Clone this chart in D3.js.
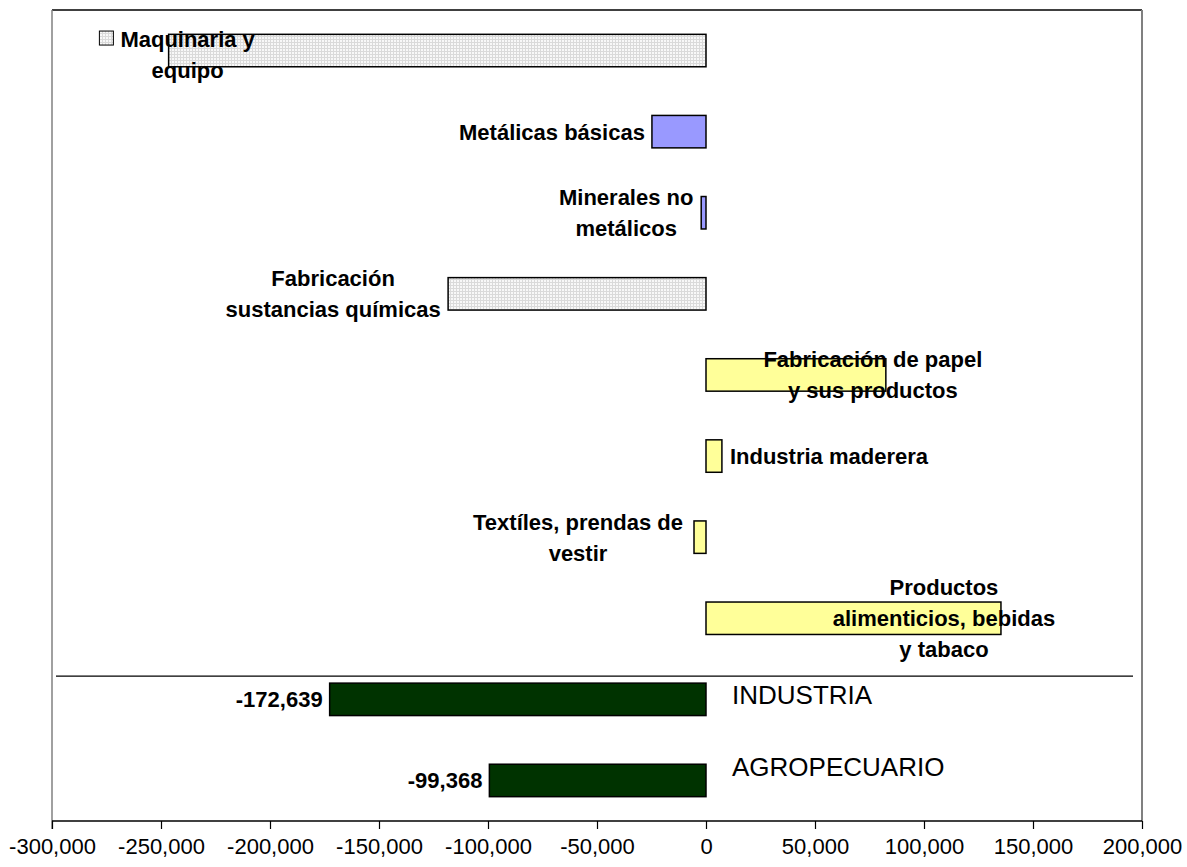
<!DOCTYPE html>
<html><head><meta charset="utf-8">
<script src="https://cdn.jsdelivr.net/npm/d3@7"></script>
<style>
html,body{margin:0;padding:0;background:#fff;}
svg{display:block;font-family:"Liberation Sans",Arial,sans-serif;}
</style></head>
<body>
<svg id="chart" width="1187" height="867"></svg>
<script>
// ---- data ----
const categories = ["Maquinaria y equipo","Metálicas básicas","Minerales no metálicos","Fabricación sustancias químicas","Fabricación de papel y sus productos","Industria maderera","Textíles, prendas de vestir","Productos alimenticios, bebidas y tabaco","INDUSTRIA","AGROPECUARIO"];
const values = [-246500, -24800, -2200, -118300, 82500, 7300, -5500, 135300, -172639, -99368];
const labelLines = [["Maquinaria y","equipo"],["Metálicas básicas"],["Minerales no","metálicos"],["Fabricación","sustancias químicas"],["Fabricación de papel","y sus productos"],["Industria maderera"],["Textíles, prendas de","vestir"],["Productos","alimenticios, bebidas","y tabaco"],["INDUSTRIA"],["AGROPECUARIO"]];
const groups = ["gris","lila","lila","gris","amarillo","amarillo","amarillo","amarillo","total","total"];
const xTicks = [-300000,-250000,-200000,-150000,-100000,-50000,0,50000,100000,150000,200000];

// ---- layout / styles ----
const fills = {gris:"url(#dots)", lila:"#9999ff", amarillo:"#ffff99", total:"#003300"};
// label placement: mode + offset relative to bar end
const labelPlace = [
  {mode:"center", dx:19, dy:4, key:true},
  {mode:"end", dx:-7},
  {mode:"center", dx:-75},
  {mode:"center", dx:-115},
  {mode:"center", dx:-13},
  {mode:"start", dx:8},
  {mode:"center", dx:-116},
  {mode:"center", dx:-57},
  {mode:"name"},
  {mode:"name"}
];

const svg = d3.select("#chart");
const L = 52, R = 1142, T = 10, B = 821;

const defs = svg.append("defs");
const pat = defs.append("pattern").attr("id","dots").attr("patternUnits","userSpaceOnUse")
  .attr("width",3).attr("height",3);
pat.append("rect").attr("width",3).attr("height",3).attr("fill","#f8f8f8");
pat.append("rect").attr("width",3).attr("height",1).attr("fill","#dadada");
pat.append("rect").attr("width",1).attr("height",3).attr("fill","#dadada");

const x = d3.scaleLinear().domain([-300000,200000]).range([L,R]);
const y = d3.scaleBand().domain(categories).range([T,B]).paddingInner(0.6).paddingOuter(0.3);

// frame
svg.append("line").attr("x1",L).attr("x2",R).attr("y1",T).attr("y2",T).attr("stroke","#000").attr("stroke-width",1.5);
svg.append("line").attr("x1",R).attr("x2",R).attr("y1",T).attr("y2",B).attr("stroke","#808080").attr("stroke-width",2);
svg.append("line").attr("x1",L).attr("x2",L).attr("y1",T).attr("y2",B+8).attr("stroke","#808080").attr("stroke-width",1.5);

// x axis
const axis = svg.append("g").attr("transform",`translate(0,${B})`)
  .call(d3.axisBottom(x).tickValues(xTicks).tickSize(8).tickPadding(9).tickFormat(d3.format(",")));
axis.select(".domain").attr("stroke","#000").attr("stroke-width",1.5).attr("d",`M${L},0H${R}`);
axis.selectAll(".tick line").attr("stroke","#000").attr("stroke-width",1.2);
axis.selectAll(".tick text").attr("font-size",22).attr("fill","#000")
  .attr("font-family",'"Liberation Sans",Arial,sans-serif').text(d=>d3.format(",")(d).replace("−","-"));

// divider line
svg.append("line").attr("x1",56).attr("x2",1133)
  .attr("y1",y("INDUSTRIA")-7).attr("y2",y("INDUSTRIA")-7)
  .attr("stroke","#000").attr("stroke-width",1.3);

// bars
svg.append("g").selectAll("rect").data(categories).join("rect")
  .attr("x",(d,i)=>x(Math.min(0,values[i])))
  .attr("y",d=>y(d))
  .attr("width",(d,i)=>Math.abs(x(values[i])-x(0)))
  .attr("height",y.bandwidth())
  .attr("fill",(d,i)=>fills[groups[i]])
  .attr("stroke","#000").attr("stroke-width",1.5);

// labels
const lh = 31;
const lg = svg.append("g");
categories.forEach((c,i)=>{
  const p = labelPlace[i];
  const cy = y(c) + y.bandwidth()/2 + (p.dy||0);
  const end = x(values[i]);
  if (p.mode === "name") {
    lg.append("text").attr("x", end-7).attr("y", cy+8).attr("text-anchor","end")
      .attr("font-size",22).attr("font-weight","bold").text(d3.format(",")(values[i]).replace("−","-"));
    const off = i===8 ? 5 : -4;
    lg.append("text").attr("x", x(0)+26).attr("y", cy+off).attr("font-size",26)
      .text(labelLines[i][0]);
    return;
  }
  const lines = labelLines[i];
  const n = lines.length;
  const t = lg.append("text").attr("font-size",22).attr("font-weight","bold");
  const spans = lines.map((s,k)=> t.append("tspan").attr("y", cy - (n-1)*lh/2 + k*lh + 8).text(s));
  const widths = spans.map(s=>s.node().getComputedTextLength());
  const maxW = d3.max(widths);
  let cx;
  if (p.mode==="center") cx = end + p.dx;
  else if (p.mode==="end") cx = end + p.dx - maxW/2;
  else cx = end + p.dx + maxW/2;
  spans.forEach(s=>s.attr("x",cx).attr("text-anchor","middle"));
  if (p.key) {
    lg.append("rect").attr("x", cx - maxW/2 - 21).attr("y", cy - (n-1)*lh/2 - 8)
      .attr("width",14).attr("height",14).attr("fill","url(#dots)").attr("stroke","#000").attr("stroke-width",1);
  }
});
</script>
</body></html>
